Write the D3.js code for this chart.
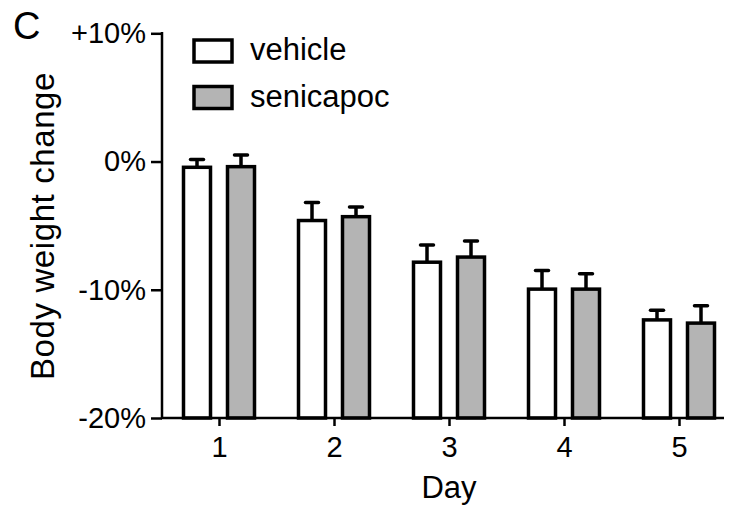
<!DOCTYPE html>
<html>
<head>
<meta charset="utf-8">
<script src="https://cdn.jsdelivr.net/npm/d3@7"></script>
<style>
  body { margin: 0; background: #fff; }
  text { font-family: "Liberation Sans", Arial, Helvetica, sans-serif; fill: #000; }
</style>
</head>
<body>
<script>
var days = [1, 2, 3, 4, 5];
var groups = ["vehicle", "senicapoc"];
var vehicleMean = [-0.45, -4.6, -7.85, -9.95, -12.35];
var vehicleErr = [0.6, 1.4, 1.35, 1.45, 0.75];
var senicapocMean = [-0.4, -4.3, -7.45, -9.95, -12.6];
var senicapocErr = [0.9, 0.75, 1.25, 1.2, 1.35];
var yTicks = [10, 0, -10, -20];
var yTickLabels = ["+10%", "0%", "-10%", "-20%"];

var w = 730,
    h = 509,
    barW = 27,
    fills = { vehicle: "#ffffff", senicapoc: "#b4b4b4" };

var svg = d3.select("body")
    .append("svg")
    .attr("width", w)
    .attr("height", h);

var y = d3.scaleLinear().domain([-20, 10]).range([418, 33.3]);
var x = d3.scalePoint().domain(days).range([219, 679]);
var xOff = d3.scalePoint().domain(groups).range([-22, 22]);

var rows = [];
days.forEach(function(d, i) {
    rows.push({ day: d, group: "vehicle", mean: vehicleMean[i], err: vehicleErr[i] });
    rows.push({ day: d, group: "senicapoc", mean: senicapocMean[i], err: senicapocErr[i] });
});

// bars
svg.selectAll("rect.bar")
    .data(rows)
    .enter()
    .append("rect")
    .attr("class", "bar")
    .attr("x", function(d) { return x(d.day) + xOff(d.group) - barW / 2; })
    .attr("y", function(d) { return y(d.mean); })
    .attr("width", barW)
    .attr("height", function(d) { return y(-20) - y(d.mean); })
    .style("fill", function(d) { return fills[d.group]; })
    .style("stroke", "#000")
    .style("stroke-width", 3.5);

// error bars
svg.selectAll("line.err")
    .data(rows)
    .enter()
    .append("line")
    .attr("x1", function(d) { return x(d.day) + xOff(d.group); })
    .attr("x2", function(d) { return x(d.day) + xOff(d.group); })
    .attr("y1", function(d) { return y(d.mean); })
    .attr("y2", function(d) { return y(d.mean + d.err); })
    .style("stroke", "#000")
    .style("stroke-width", 3.5);

svg.selectAll("line.cap")
    .data(rows)
    .enter()
    .append("line")
    .attr("x1", function(d) { return x(d.day) + xOff(d.group) - 6.5; })
    .attr("x2", function(d) { return x(d.day) + xOff(d.group) + 6.5; })
    .attr("y1", function(d) { return y(d.mean + d.err); })
    .attr("y2", function(d) { return y(d.mean + d.err); })
    .style("stroke", "#000")
    .style("stroke-width", 3.5)
    .style("stroke-linecap", "round");

// y axis
var yAxis = svg.append("g")
    .attr("transform", "translate(162,0)")
    .call(d3.axisLeft(y)
        .tickValues(yTicks)
        .tickSize(11)
        .tickPadding(5)
        .tickFormat(function(d, i) { return yTickLabels[i]; }));
yAxis.select(".domain").remove();
yAxis.append("line")
    .attr("x1", 0).attr("x2", 0)
    .attr("y1", y(10) - 1.2).attr("y2", y(-20))
    .style("stroke", "#000").style("stroke-width", 2.5);

// x axis
var xAxis = svg.append("g")
    .attr("transform", "translate(0,418)")
    .call(d3.axisBottom(x).tickSize(8).tickPadding(10));
xAxis.select(".domain").remove();
xAxis.append("line")
    .attr("x1", 161).attr("x2", 724)
    .attr("y1", 0).attr("y2", 0)
    .style("stroke", "#000").style("stroke-width", 2.5);

svg.selectAll(".tick line").style("stroke", "#000").style("stroke-width", 2.5);
svg.selectAll(".tick text")
    .style("font-family", "'Liberation Sans', Arial, sans-serif")
    .style("font-size", "29px")
    .style("fill", "#000");

// axis titles
svg.append("text")
    .attr("x", x(3))
    .attr("y", 498)
    .attr("text-anchor", "middle")
    .style("font-size", "31px")
    .text("Day");

svg.append("text")
    .attr("transform", "translate(54," + 226 + ") rotate(-90)")
    .attr("text-anchor", "middle")
    .style("font-size", "33px")
    .style("letter-spacing", "0.6px")
    .text("Body weight change");

// panel letter
svg.append("text")
    .attr("x", 13)
    .attr("y", 39)
    .style("font-size", "38px")
    .text("C");

// legend
var legend = svg.selectAll("g.legend")
    .data(groups)
    .enter()
    .append("g")
    .attr("transform", function(d, i) { return "translate(194," + (40 + i * 46.5) + ")"; });

legend.append("rect")
    .attr("width", 38)
    .attr("height", 22)
    .style("fill", function(d) { return fills[d]; })
    .style("stroke", "#000")
    .style("stroke-width", 3.5);

legend.append("text")
    .attr("x", 56)
    .attr("y", 20)
    .style("font-size", "31px")
    .text(function(d) { return d; });
</script>
</body>
</html>
